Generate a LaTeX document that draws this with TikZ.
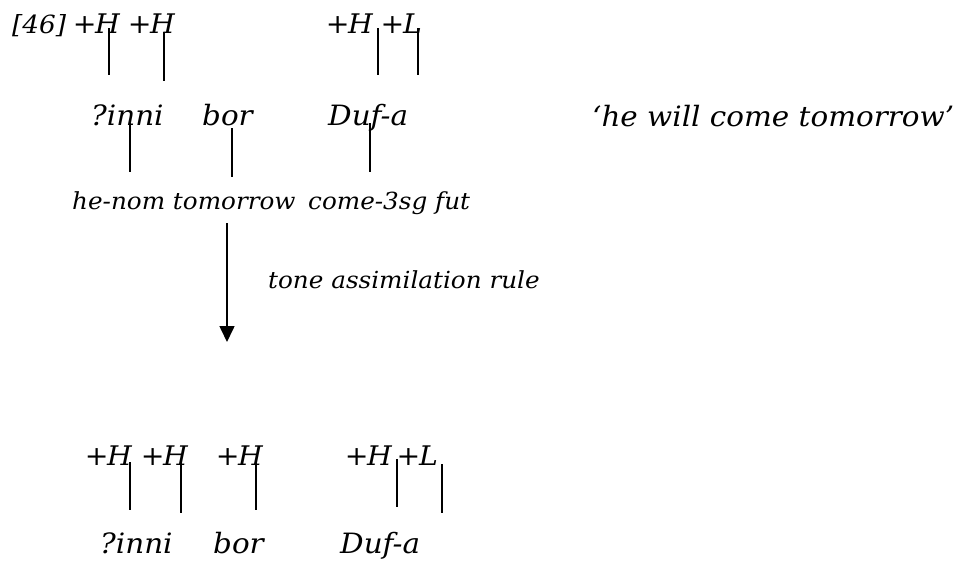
\documentclass[tikz,border=0pt]{standalone}
\usepackage{fontspec}
\usetikzlibrary{arrows.meta}
\newfontfamily\glossfont[FakeStretch=1.05]{DejaVu Serif}
\newcommand\tn[1]{+\kern-1.5pt #1}
\tikzset{
  big/.style={inner sep=0pt, font=\glossfont\itshape\fontsize{28}{32}\selectfont},
  small/.style={inner sep=0pt, font=\glossfont\itshape\fontsize{23.5}{27}\selectfont},
  tonefont/.style={inner sep=0pt, font=\glossfont\itshape\fontsize{27}{31}\selectfont},
  tone/.style={tonefont, anchor=base east},
  word/.style={big, anchor=base west},
  assoc/.style={line width=1.6pt},
  rulearrow/.style={line width=1.6pt, -{Triangle[width=15pt,length=16pt]}}
}
\begin{document}
\begin{tikzpicture}[x=1pt,y=-1pt]
\useasboundingbox (0,0) rectangle (953,560);

% underlying form: tones
\node[inner sep=0pt, font=\glossfont\itshape\fontsize{25}{29}\selectfont, anchor=base west] (ex) at (12,33) {[46]};
\node[tone] (t1) at (120,33) {\tn{H}};
\node[tone] (t2) at (175,33) {\tn{H}};
\node[tone] (t3) at (373,33) {\tn{H}};
\node[tone] (t4) at (422,33) {\tn{L}};

% words
\node[word] (w1) at (91,125)  {?inni};
\node[word] (w2) at (202,125) {bor};
\node[word] (w3) at (328,125) {Duf-a};
\node[word] (tr) at (592,126) {‘he will come tomorrow’};

% glosses
\node[small, anchor=base west] (g1) at (72,209)  {he-nom tomorrow};
\node[small, anchor=base west] (g2) at (308,209) {come-3sg fut};

% tone association lines
\coordinate (t1a) at (109,28);  \coordinate (t1b) at (109,75);
\coordinate (t2a) at (164,32);  \coordinate (t2b) at (164,81);
\coordinate (t3a) at (378,28);  \coordinate (t3b) at (378,75);
\coordinate (t4a) at (418,28);  \coordinate (t4b) at (418,75);
\draw[assoc] (t1a) -- (t1b);
\draw[assoc] (t2a) -- (t2b);
\draw[assoc] (t3a) -- (t3b);
\draw[assoc] (t4a) -- (t4b);

% word-to-gloss lines
\coordinate (w1a) at (130,123); \coordinate (w1b) at (130,172);
\coordinate (w2a) at (232,128); \coordinate (w2b) at (232,177);
\coordinate (w3a) at (370,123); \coordinate (w3b) at (370,172);
\draw[assoc] (w1a) -- (w1b);
\draw[assoc] (w2a) -- (w2b);
\draw[assoc] (w3a) -- (w3b);

% rule application
\coordinate (ra) at (227,223);
\coordinate (rb) at (227,342);
\draw[rulearrow] (ra) -- (rb);
\node[small, anchor=base west] (rule) at (268,288) {tone assimilation rule};

% surface form: tones
\node[tone] (s1) at (132,465) {\tn{H}};
\node[tone] (s2) at (188,465) {\tn{H}};
\node[tone] (s3) at (263,465) {\tn{H}};
\node[tone] (s4) at (392,465) {\tn{H}};
\node[tone] (s5) at (438,465) {\tn{L}};

\coordinate (s1a) at (130,462); \coordinate (s1b) at (130,510);
\coordinate (s2a) at (181,463); \coordinate (s2b) at (181,513);
\coordinate (s3a) at (256,463); \coordinate (s3b) at (256,510);
\coordinate (s4a) at (397,459); \coordinate (s4b) at (397,507);
\coordinate (s5a) at (442,464); \coordinate (s5b) at (442,513);
\draw[assoc] (s1a) -- (s1b);
\draw[assoc] (s2a) -- (s2b);
\draw[assoc] (s3a) -- (s3b);
\draw[assoc] (s4a) -- (s4b);
\draw[assoc] (s5a) -- (s5b);

% surface form: words
\node[word] (v1) at (100,553) {?inni};
\node[word] (v2) at (213,553) {bor};
\node[word] (v3) at (340,553) {Duf-a};
\end{tikzpicture}
\end{document}
